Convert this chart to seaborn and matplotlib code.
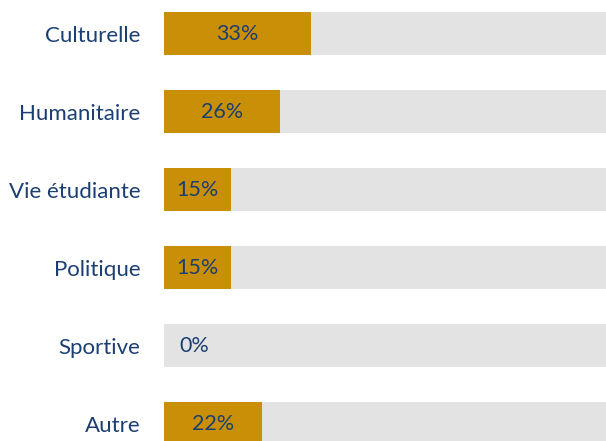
import matplotlib
matplotlib.use("Agg")
import matplotlib.pyplot as plt
import seaborn as sns
import pandas as pd

# données du graphique
categories = ["Culturelle", "Humanitaire", "Vie étudiante", "Politique", "Sportive", "Autre"]
values = [33, 26, 15, 15, 0, 22]
full = [100] * len(categories)

sns.set_theme(style="white")
plt.rcParams["font.family"] = ["Lato", "DejaVu Sans"]

text_color = "#1B3F73"
bar_color = "#C98F07"
back_color = "#E3E3E3"

df = pd.DataFrame({"cat": categories, "val": values, "full": full})

fig = plt.figure(figsize=(6.06, 4.41), dpi=100)
ax = fig.add_axes([0.2706, 0.0, 0.7294, 1.0])

sns.barplot(data=df, y="cat", x="full", color=back_color, width=0.55,
            saturation=1, linewidth=0, ax=ax, orient="h")
sns.barplot(data=df, y="cat", x="val", color=bar_color, width=0.55,
            saturation=1, linewidth=0, ax=ax, orient="h")

for i, v in enumerate(values):
    xpos = v / 2 if v > 0 else 6.7
    ax.text(xpos, i, f"{v}%", ha="center", va="center",
            color=text_color, fontsize=15.5)

ax.set_xlim(0, 98.9)
ax.set_ylim(5.224, -0.43)
ax.set_xlabel("")
ax.set_ylabel("")
ax.set_xticks([])
ax.tick_params(axis="y", length=0, pad=17, labelsize=16, labelcolor=text_color)
for s in ax.spines.values():
    s.set_visible(False)

fig.savefig("out.png", dpi=100)
